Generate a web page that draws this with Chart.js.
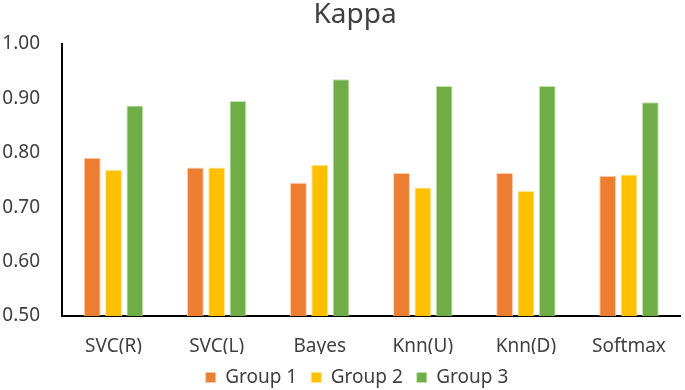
<!DOCTYPE html>
<html>
<head>
<meta charset="utf-8">
<script src="https://cdn.jsdelivr.net/npm/chart.js@4"></script>
<style>
  html, body { margin: 0; padding: 0; background: #fff; }
  #grafico { display: block; }
</style>
</head>
<body>
<canvas id="grafico" width="685" height="390"></canvas>
<script>
// Dados
var titulo = 'Kappa';
var categorias = ['SVC(R)', 'SVC(L)', 'Bayes', 'Knn(U)', 'Knn(D)', 'Softmax'];
var grupo1 = [0.791, 0.773, 0.745, 0.763, 0.763, 0.758];
var grupo2 = [0.769, 0.773, 0.778, 0.736, 0.730, 0.760];
var grupo3 = [0.887, 0.895, 0.935, 0.923, 0.923, 0.893];
var ticksY = [0.50, 0.60, 0.70, 0.80, 0.90, 1.00];

var corTexto = '#404040';
var fonte = "'Noto Sans', 'Open Sans', sans-serif";

// Título e legenda ficam um pouco à direita do centro, como no original
var pluginAjustes = {
    id: 'ajustesKappa',
    afterLayout: function (chart) {
        chart.legend.left += 15;
        chart.legend.right += 15;
    },
    afterDraw: function (chart) {
        var c = chart.ctx;
        c.save();
        c.font = '28px ' + fonte;
        c.fillStyle = corTexto;
        c.textAlign = 'center';
        c.textBaseline = 'alphabetic';
        c.fillText(titulo, 355, 23);
        c.restore();
    }
};

var ctx = document.getElementById('grafico');

var myChart = new Chart(ctx, {
    type: 'bar',
    data: {
        labels: categorias,
        datasets: [
            {
                label: 'Group 1',
                data: grupo1,
                backgroundColor: '#ED7D31',
                borderColor: 'rgba(255, 200, 170, 0.9)',
                borderWidth: 1
            },
            {
                label: 'Group 2',
                data: grupo2,
                backgroundColor: '#FFC000',
                borderColor: 'rgba(255, 225, 140, 0.9)',
                borderWidth: 1
            },
            {
                label: 'Group 3',
                data: grupo3,
                backgroundColor: '#70AD47',
                borderColor: 'rgba(190, 225, 170, 0.9)',
                borderWidth: 1
            }
        ]
    },
    options: {
        responsive: false,
        animation: false,
        categoryPercentage: 0.62,
        barPercentage: 0.79,
        layout: {
            padding: { left: 0, right: 1, top: 44, bottom: -7 }
        },
        scales: {
            x: {
                grid: { display: false, drawTicks: false },
                border: { display: true, color: '#000', width: 2 },
                ticks: {
                    color: corTexto,
                    padding: 19,
                    font: { family: fonte, size: 19 }
                },
                afterFit: function (eixo) { eixo.height = 38; }
            },
            y: {
                min: 0.5,
                max: 1.0,
                afterBuildTicks: function (eixo) {
                    eixo.ticks = ticksY.map(function (v) { return { value: v }; });
                },
                grid: { display: false, drawTicks: false },
                border: { display: true, color: '#000', width: 2 },
                ticks: {
                    color: corTexto,
                    padding: 22,
                    font: { family: fonte, size: 19 },
                    callback: function (v) { return Number(v).toFixed(2); }
                },
                afterFit: function (eixo) { eixo.width = 62; }
            }
        },
        plugins: {
            title: { display: false },
            legend: {
                position: 'bottom',
                labels: {
                    color: corTexto,
                    font: { family: fonte, size: 19 },
                    boxWidth: 10,
                    boxHeight: 10,
                    padding: 14
                }
            },
            tooltip: { enabled: false }
        }
    },
    plugins: [pluginAjustes]
});
</script>
</body>
</html>
